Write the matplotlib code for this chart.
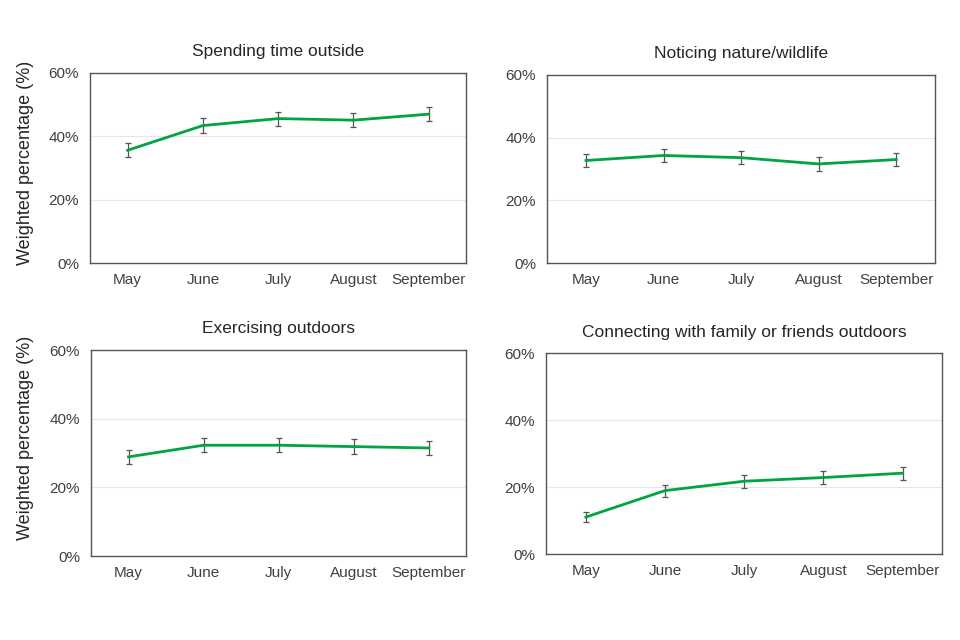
import matplotlib
matplotlib.use('Agg')
import matplotlib.pyplot as plt
from matplotlib.ticker import PercentFormatter

plt.rcParams['font.family'] = ['Liberation Sans', 'DejaVu Sans']

months = ['May', 'June', 'July', 'August', 'September']

titles = ['Spending time outside', 'Noticing nature/wildlife',
          'Exercising outdoors', 'Connecting with family or friends outdoors']

spending = [35.6, 43.4, 45.6, 45.1, 47.0]
spending_err = [2.2, 2.3, 2.2, 2.2, 2.2]

nature = [32.7, 34.3, 33.6, 31.6, 33.0]
nature_err = [2.2, 2.1, 2.1, 2.1, 2.1]

exercise = [28.9, 32.3, 32.3, 31.9, 31.5]
exercise_err = [2.1, 2.1, 2.1, 2.1, 2.1]

family = [11.1, 19.0, 21.8, 22.9, 24.2]
family_err = [1.5, 1.8, 1.9, 1.9, 1.9]

series = [(spending, spending_err), (nature, nature_err),
          (exercise, exercise_err), (family, family_err)]

# axes boxes in figure fractions
boxes = [
    [0.0938, 0.589, 0.392, 0.297],
    [0.570, 0.589, 0.404, 0.294],
    [0.0948, 0.131, 0.391, 0.322],
    [0.569, 0.134, 0.4125, 0.314],
]
# y-label anchor (axes coords) for the left column
label_pos = {0: (-0.149, 0.526), 2: (-0.152, 0.575)}

fig = plt.figure(figsize=(9.6, 6.4), dpi=100)

for i, (box, title, (vals, errs)) in enumerate(zip(boxes, titles, series)):
    ax = fig.add_axes(box)
    x = range(len(months))
    ax.errorbar(x, vals, yerr=errs, fmt='none', ecolor='#555555',
                elinewidth=0.9, capsize=2.5, capthick=0.9, zorder=2)
    ax.plot(x, vals, color='#00A443', linewidth=2, zorder=3)
    ax.set_xlim(-0.5, len(months) - 0.5)
    ax.set_ylim(0, 60)
    ax.set_yticks([0, 20, 40, 60])
    ax.yaxis.set_major_formatter(PercentFormatter(decimals=0))
    ax.set_xticks(list(x))
    ax.set_xticklabels(months)
    ax.tick_params(length=0, labelsize=11, colors='#404040', pad=7)
    ax.tick_params(axis='y', pad=8)
    ax.grid(axis='y', color='#e6e6e6', linewidth=0.8)
    ax.set_axisbelow(True)
    for s in ax.spines.values():
        s.set_color('#555555')
        s.set_linewidth(1)
    ax.set_title(title, fontsize=12.5, color='#262626', pad=12)
    if i in label_pos:
        ax.set_ylabel('Weighted percentage (%)', fontsize=13, color='#262626')
        ax.yaxis.set_label_coords(*label_pos[i])

plt.savefig('out.png', dpi=100)
